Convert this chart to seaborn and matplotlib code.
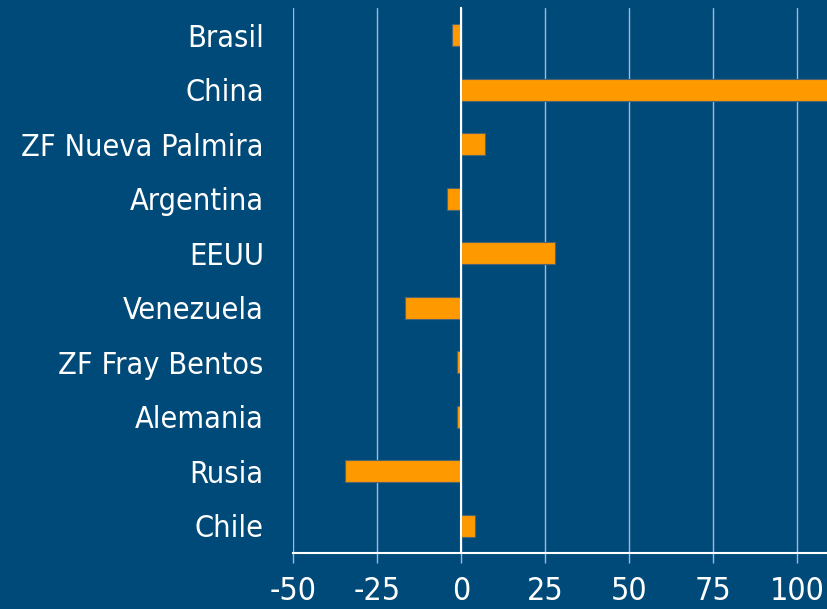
import matplotlib
matplotlib.use("Agg")
import matplotlib.pyplot as plt
import seaborn as sns
import pandas as pd
import numpy as np
from matplotlib.ticker import FixedLocator

categories = ["Brasil", "China", "ZF Nueva Palmira", "Argentina", "EEUU",
              "Venezuela", "ZF Fray Bentos", "Alemania", "Rusia", "Chile"]
values = [-2.7, 135.0, 7.1, -4.3, 28.0, -16.8, -1.2, -1.3, -34.5, 4.2]
xticks = [-50, -25, 0, 25, 50, 75, 100]

BG = "#004a79"
BAR = "#ff9900"
GRID = "#9dbdd6"

sns.set_theme(style="white")
plt.rcParams['font.family'] = ['DejaVu Sans']

df = pd.DataFrame({"pais": categories, "valor": values})

fig = plt.figure(figsize=(8.28, 6.09), dpi=100, facecolor=BG)
ax = fig.add_axes([293/828, 1-553/609, 1-293/828, (553-8)/609])
ax.set_facecolor(BG)

sns.barplot(data=df, x="valor", y="pais", order=categories, color=BAR,
            width=0.4, edgecolor="#4f6470", linewidth=0.8, saturation=1,
            ax=ax, zorder=3)

ax.set_xlim(-50, 109.2)
ax.set_ylim(len(categories) - 0.5, -0.5)
ax.set_xlabel("")
ax.set_ylabel("")

ax.set_xticks(xticks)
ax.set_xticklabels([str(t) for t in xticks])
ax.grid(axis="x", color=GRID, linewidth=1, zorder=0)
ax.grid(axis="y", visible=False)

for s in ["top", "right"]:
    ax.spines[s].set_visible(False)
ax.spines["left"].set_position(("data", 0))
ax.spines["left"].set_color("white")
ax.spines["left"].set_linewidth(1.5)
ax.spines["left"].set_zorder(4)
ax.spines["bottom"].set_color("white")
ax.spines["bottom"].set_linewidth(1.5)

ax.yaxis.set_minor_locator(FixedLocator(np.arange(-0.5, len(categories), 1.0)))
ax.tick_params(axis="y", which="major", length=0, pad=142,
               labelsize=22, labelcolor="white")
ax.tick_params(axis="y", which="minor", length=7, width=1.2, color=GRID,
               direction="out")
ax.tick_params(axis="x", which="major", length=7.5, width=1, color=GRID,
               labelsize=23, labelcolor="white", pad=9, bottom=True)

for lbl in ax.get_yticklabels() + ax.get_xticklabels():
    lbl.set_fontstretch("condensed")

fig.savefig("out.png", dpi=100, facecolor=BG)
